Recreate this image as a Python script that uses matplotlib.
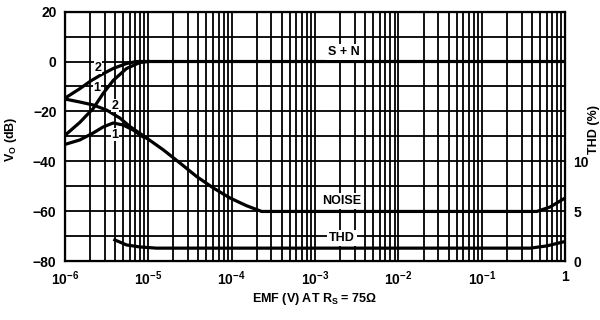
import numpy as np
import matplotlib
matplotlib.use('Agg')
import matplotlib.pyplot as plt
from matplotlib.ticker import FixedLocator, NullFormatter

plt.rcParams['font.family'] = ['Liberation Sans', 'DejaVu Sans']
plt.rcParams['font.weight'] = 'bold'
plt.rcParams['mathtext.fontset'] = 'custom'
plt.rcParams['mathtext.rm'] = 'Liberation Sans:bold'
plt.rcParams['mathtext.bf'] = 'Liberation Sans:bold'
plt.rcParams['mathtext.it'] = 'Liberation Sans:bold'
plt.rcParams['mathtext.default'] = 'bf'

# S + N, curve 2 (dB)
sn2_v = [1e-6, 1.51e-6, 2.0e-6, 2.63e-6, 3.8e-6, 5.5e-6, 7.24e-6, 1.0]
sn2_db = [-14.7, -10.9, -8.0, -5.6, -2.8, -0.8, 0.0, 0.0]

# S + N, curve 1 (dB)
sn1_v = [1e-6, 1.51e-6, 2.19e-6, 2.88e-6, 3.8e-6, 5.5e-6, 7.94e-6, 1.0e-5]
sn1_db = [-29.6, -24.4, -18.8, -12.8, -7.6, -2.8, -0.4, 0.0]

# noise, curve 2 (dB)
noise2_v = [1e-6, 1.51e-6, 2.19e-6, 3.16e-6, 4.57e-6, 6.03e-6, 9.55e-6, 1.51e-5,
            2.4e-5, 3.8e-5, 6.03e-5, 9.55e-5, 1.51e-4, 2.29e-4, 0.457, 0.66, 1.0]
noise2_db = [-15.0, -16.2, -17.4, -19.4, -22.6, -26.0, -30.6, -35.3,
             -40.6, -46.0, -50.6, -54.6, -57.7, -60.0, -60.0, -58.2, -54.6]

# noise, curve 1 (dB), joins curve 2 near 1e-5
noise1_v = [1e-6, 1.51e-6, 2.19e-6, 2.88e-6, 3.8e-6, 5.0e-6, 6.6e-6, 8.7e-6, 9.55e-6]
noise1_db = [-33.2, -31.4, -28.6, -26.2, -24.6, -25.4, -27.4, -30.2, -30.6]

# THD (%)
thd_v = [3.98e-6, 5.5e-6, 7.94e-6, 1.26e-5, 0.38, 0.6, 1.0]
thd_pct = [2.15, 1.65, 1.45, 1.33, 1.33, 1.55, 2.0]

x_ticks = [1e-6, 1e-5, 1e-4, 1e-3, 1e-2, 1e-1, 1]
x_labels = ['$10^{-6}$', '$10^{-5}$', '$10^{-4}$', '$10^{-3}$', '$10^{-2}$', '$10^{-1}$', '1']
y_ticks = [-80, -60, -40, -20, 0, 20]
thd_ticks = [0, 5, 10]

fig = plt.figure(figsize=(6, 3.2), dpi=100)
ax = fig.add_axes([0.108, 0.183, 0.834, 0.781])
ax.set_xscale('log')
ax.set_xlim(1e-6, 1)
ax.set_ylim(-80, 20)

ax.xaxis.set_major_locator(FixedLocator(x_ticks))
ax.xaxis.set_minor_locator(FixedLocator([m * d for d in x_ticks[:-1] for m in range(2, 10)]))
ax.xaxis.set_minor_formatter(NullFormatter())
ax.set_xticklabels(x_labels)
ax.set_yticks(y_ticks)
ax.set_yticks(range(-70, 20, 20), minor=True)
ax.set_yticklabels([str(t).replace('-', '\u2212') for t in y_ticks])
ax.grid(which='both', color='black', lw=1.3)
ax.tick_params(which='both', length=0, labelsize=10, pad=6)
for s in ax.spines.values():
    s.set_linewidth(1.6)

lw = 2.3
ax.plot(sn2_v, sn2_db, color='black', lw=lw, zorder=3)
ax.plot(sn1_v, sn1_db, color='black', lw=lw, zorder=3)
ax.plot(noise2_v, noise2_db, color='black', lw=lw, zorder=3)
ax.plot(noise1_v, noise1_db, color='black', lw=lw, zorder=3)

ax2 = ax.twinx()
ax2.set_ylim(0, 25)
ax2.set_yticks(thd_ticks)
ax2.tick_params(length=0, labelsize=10, pad=6)
ax2.plot(thd_v, thd_pct, color='black', lw=lw)
ax2.set_ylabel('THD (%)', fontsize=9, fontweight='bold')
ax2.yaxis.set_label_coords(1.045, 0.526)

box = dict(facecolor='white', edgecolor='none', pad=1.5)
txt = dict(fontsize=9, fontweight='bold', ha='center', va='center', zorder=5, bbox=box)
ax.text(2.24e-3, 3.7, 'S + N', **txt)
ax.text(2.1e-3, -55.7, 'NOISE', **txt)
ax.text(2.1e-3, -70.7, 'THD', **txt)
box1 = dict(facecolor='white', edgecolor='none', pad=0.3)
small = dict(fontsize=9, fontweight='bold', ha='center', va='center', zorder=5, bbox=box1)
ax.text(2.49e-6, -2.5, '2', **small)
ax.text(2.42e-6, -10.5, '1', **small)
ax.text(3.98e-6, -17.7, '2', **small)
ax.text(3.98e-6, -29.3, '1', **small)

ax.set_ylabel('V$_\\mathbf{O}$ (dB)', fontsize=9, fontweight='bold')
ax.yaxis.set_label_coords(-0.092, 0.49)
ax.set_xlabel('EMF (V) AT R$_\\mathbf{S}$ = 75\u03a9', fontsize=9, fontweight='bold')
ax.xaxis.set_label_coords(0.5, -0.15)
ax.xaxis.label.set_va('center')

plt.savefig('out.png', dpi=100)
